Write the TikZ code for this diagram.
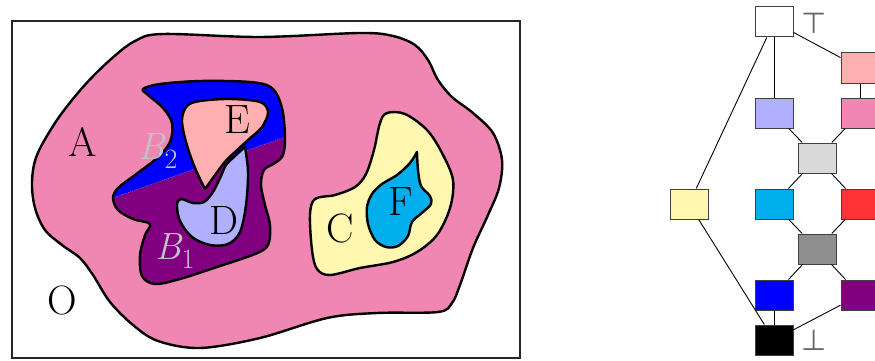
\documentclass[tikz,border=0pt]{standalone}
\usepackage{fontspec}
\newfontfamily\symfont{DejaVu Sans}
\definecolor{cA}{HTML}{F086B2}
\definecolor{cB}{HTML}{0000FF}
\definecolor{cBB}{HTML}{800080}
\definecolor{cE}{HTML}{FFAFAF}
\definecolor{cD}{HTML}{B0B0FF}
\definecolor{cC}{HTML}{FFF6B0}
\definecolor{cF}{HTML}{00AEEB}
\definecolor{cR}{HTML}{FF3333}
\definecolor{cLG}{HTML}{D9D9D9}
\definecolor{cDG}{HTML}{8F8F8F}
\definecolor{cLab}{HTML}{C4C4C4}
\newcommand\bsub[1]{{\itshape B}\raisebox{-0.25em}{\fontsize{28}{28}\selectfont #1}}
\tikzset{
  region/.style={draw=black, line width=2.4, line join=round},
  lbl/.style={inner sep=0, font=\fontsize{41}{41}\selectfont},
  blbl/.style={inner sep=0, text=cLab, font=\fontsize{38}{38}\selectfont},
  lat/.style={draw=black!75, line width=1, minimum width=38, minimum height=30, inner sep=0},
  edge/.style={draw=black, line width=0.9},
  tb/.style={inner sep=0, text=black!60, font=\symfont\fontsize{29}{29}\selectfont}
}
\begin{document}
\begin{tikzpicture}[x=1pt,y=-1pt]
\useasboundingbox (0,0) rectangle (875,361);
% frame
\draw[line width=1.5, draw=black!85, fill=white] (12,21) rectangle (520,358);
% A
\draw[region, fill=cA] plot[smooth cycle, tension=0.55] coordinates {
 (163,34) (260,37) (360,33) (393,36) (415,45) (428,60) (438,80) (452,97) (473,113)
 (493,133) (502,160) (499,188) (488,215) (473,248) (460,285) (452,303) (438,312)
 (377,313) (327,318) (260,338) (200,348) (158,341) (133,325) (110,302) (93,275)
 (80,258) (62,245) (45,230) (35,208) (32,182) (37,155) (57,120) (83,87) (110,60) (135,41)};
% B (purple lower, blue upper)
\fill[cBB] plot[smooth cycle, tension=0.55] coordinates {
 (143,89) (160,84) (200,81) (250,82) (272,88) (282,108) (285,137) (283,155) (275,163)
 (264,170) (261,185) (265,205) (270,225) (268,245) (255,254) (217,267) (180,279)
 (155,284) (142,276) (140,255) (145,235) (150,224) (133,219) (118,210) (113,198)
 (118,188) (135,175) (157,158) (170,142) (172,123) (163,108) (148,95)};
\begin{scope}
\clip (100,202.6) -- (300,131.7) -- (300,70) -- (100,70) -- cycle;
\fill[cB] plot[smooth cycle, tension=0.55] coordinates {
 (143,89) (160,84) (200,81) (250,82) (272,88) (282,108) (285,137) (283,155) (275,163)
 (264,170) (261,185) (265,205) (270,225) (268,245) (255,254) (217,267) (180,279)
 (155,284) (142,276) (140,255) (145,235) (150,224) (133,219) (118,210) (113,198)
 (118,188) (135,175) (157,158) (170,142) (172,123) (163,108) (148,95)};
\end{scope}
\draw[white, opacity=0.5, line width=0.4, dash pattern=on 1pt off 1pt] (113,198) -- (285,137);
\draw[region] plot[smooth cycle, tension=0.55] coordinates {
 (143,89) (160,84) (200,81) (250,82) (272,88) (282,108) (285,137) (283,155) (275,163)
 (264,170) (261,185) (265,205) (270,225) (268,245) (255,254) (217,267) (180,279)
 (155,284) (142,276) (140,255) (145,235) (150,224) (133,219) (118,210) (113,198)
 (118,188) (135,175) (157,158) (170,142) (172,123) (163,108) (148,95)};
% E
\draw[region, fill=cE] plot[smooth, tension=0.55] coordinates {
 (205,189) (195,168) (186,142) (182,120) (187,106) (200,101) (230,99) (260,102)
 (268,112) (262,127) (248,140) (235,152) (224,163) (205,189)} -- cycle;
% D
\draw[region, fill=cD] plot[smooth, tension=0.55] coordinates {
 (245,147) (248,172) (246,205) (240,232) (228,244) (210,245) (192,237) (180,221)
 (177,205) (181,199) (193,203) (204,202) (213,192) (221,176) (226,165) (235,156) (245,147)} -- cycle;
% C
\draw[region, fill=cC] plot[smooth cycle, tension=0.55] coordinates {
 (387,113) (405,114) (427,130) (442,153) (453,180) (450,208) (437,235) (417,252)
 (393,262) (360,268) (330,275) (317,269) (312,250) (310,215) (315,199) (335,195)
 (355,187) (366,174) (374,150) (380,123)};
% F
\draw[region, fill=cF] plot[smooth, tension=0.55] coordinates {
 (417,152) (418,170) (421,186) (430,196) (431,204) (423,212) (412,222) (408,236)
 (398,246) (386,247) (375,240) (368,224) (367,207) (372,194) (382,184) (397,175)
 (410,163) (417,152)} -- cycle;
% labels
\node[lbl] (lA) at (83,142) {A};
\node[lbl] (lO) at (62,300) {O};
\node[lbl] (lE) at (237,120) {E};
\node[lbl] (lD) at (224,220) {D};
\node[lbl] (lC) at (340,228) {C};
\node[lbl] (lF) at (401,202) {F};
\node[blbl] (lB2) at (158,151) {\bsub{2}};
\node[blbl] (lB1) at (175,251) {\bsub{1}};
% lattice
\node[lat, fill=white] (top) at (774,22) {};
\node[lat, fill=cE] (pl) at (860,68) {};
\node[lat, fill=cD] (lav) at (774,113) {};
\node[lat, fill=cA] (pk) at (860,113) {};
\node[lat, fill=cLG] (lg) at (817,158) {};
\node[lat, fill=cC] (yel) at (689,204) {};
\node[lat, fill=cF] (cy) at (774,204) {};
\node[lat, fill=cR] (rd) at (860,204) {};
\node[lat, fill=cDG] (dg) at (817,249) {};
\node[lat, fill=cB] (bl) at (774,295) {};
\node[lat, fill=cBB] (pu) at (860,295) {};
\node[lat, fill=black] (bk) at (774,340) {};
\node[tb] (ttop) at (814,23) {⊤};
\node[tb] (tbot) at (814,340) {⊥};
\draw[edge] (top) -- (pl);
\draw[edge] (top) -- (lav);
\draw[edge] (top) -- (yel);
\draw[edge] (pl) -- (pk);
\draw[edge] (lav) -- (lg);
\draw[edge] (pk) -- (lg);
\draw[edge] (lg) -- (cy);
\draw[edge] (lg) -- (rd);
\draw[edge] (cy) -- (dg);
\draw[edge] (rd) -- (dg);
\draw[edge] (dg) -- (bl);
\draw[edge] (dg) -- (pu);
\draw[edge] (bl) -- (bk);
\draw[edge] (pu) -- (bk);
\draw[edge] (yel) -- (bk);
\end{tikzpicture}
\end{document}
